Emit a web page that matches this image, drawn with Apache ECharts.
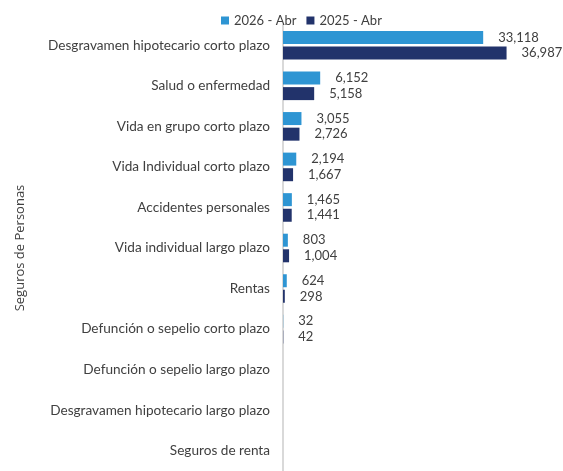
<!DOCTYPE html>
<html>
<head>
<meta charset="utf-8">
<script src="https://cdn.jsdelivr.net/npm/echarts@6/dist/echarts.min.js"></script>
<style>
  html, body { margin: 0; padding: 0; background: #fff; }
  #chart { width: 563px; height: 471px; }
</style>
</head>
<body>
<div id="chart"></div>
<script>
  const categories = [
    'Desgravamen hipotecario corto plazo',
    'Salud o enfermedad',
    'Vida en grupo corto plazo',
    'Vida Individual corto plazo',
    'Accidentes personales',
    'Vida individual largo plazo',
    'Rentas',
    'Defunción o sepelio corto plazo',
    'Defunción o sepelio largo plazo',
    'Desgravamen hipotecario largo plazo',
    'Seguros de renta'
  ];
  const values2026 = [33118, 6152, 3055, 2194, 1465, 803, 624, 32, null, null, null];
  const values2025 = [36987, 5158, 2726, 1667, 1441, 1004, 298, 42, null, null, null];
  const seriesNames = ['2026 - Abr', '2025 - Abr'];

  const font = 'Lato, "Noto Sans", sans-serif';
  const fmt = p => (p.value == null ? '' : p.value.toLocaleString('en-US'));

  const myChart = echarts.init(document.getElementById('chart'));
  myChart.setOption({
    animation: false,
    textStyle: { fontFamily: font },
    legend: {
      top: 9,
      left: 216,
      itemWidth: 8,
      itemHeight: 8,
      itemGap: 10,
      icon: 'rect',
      textStyle: { fontSize: 13, color: '#404040', fontFamily: font }
    },
    grid: { left: 283, top: 25, width: 272, height: 455 },
    xAxis: {
      type: 'value',
      min: 0,
      max: 45000,
      show: false,
      splitLine: { show: false }
    },
    yAxis: {
      type: 'category',
      inverse: true,
      data: categories,
      name: 'Seguros de Personas',
      nameLocation: 'middle',
      nameRotate: 90,
      nameGap: 256,
      nameTextStyle: { fontSize: 13, color: '#404040', fontFamily: '"Open Sans", sans-serif' },
      axisLine: { lineStyle: { color: '#D9D9D9', width: 2 } },
      axisTick: { show: false },
      axisLabel: { fontSize: 13.6, color: '#404040', margin: 13, fontFamily: font }
    },
    series: [
      {
        name: seriesNames[0],
        type: 'bar',
        data: values2026,
        barWidth: 13,
        barGap: '20%',
        itemStyle: { color: '#2E95D3' },
        label: { show: true, position: 'right', distance: 15, fontSize: 13, color: '#404040', formatter: fmt, fontFamily: font }
      },
      {
        name: seriesNames[1],
        type: 'bar',
        data: values2025,
        barWidth: 13,
        itemStyle: { color: '#22336B' },
        label: { show: true, position: 'right', distance: 15, fontSize: 13, color: '#404040', formatter: fmt, fontFamily: font }
      }
    ]
  });
</script>
</body>
</html>
